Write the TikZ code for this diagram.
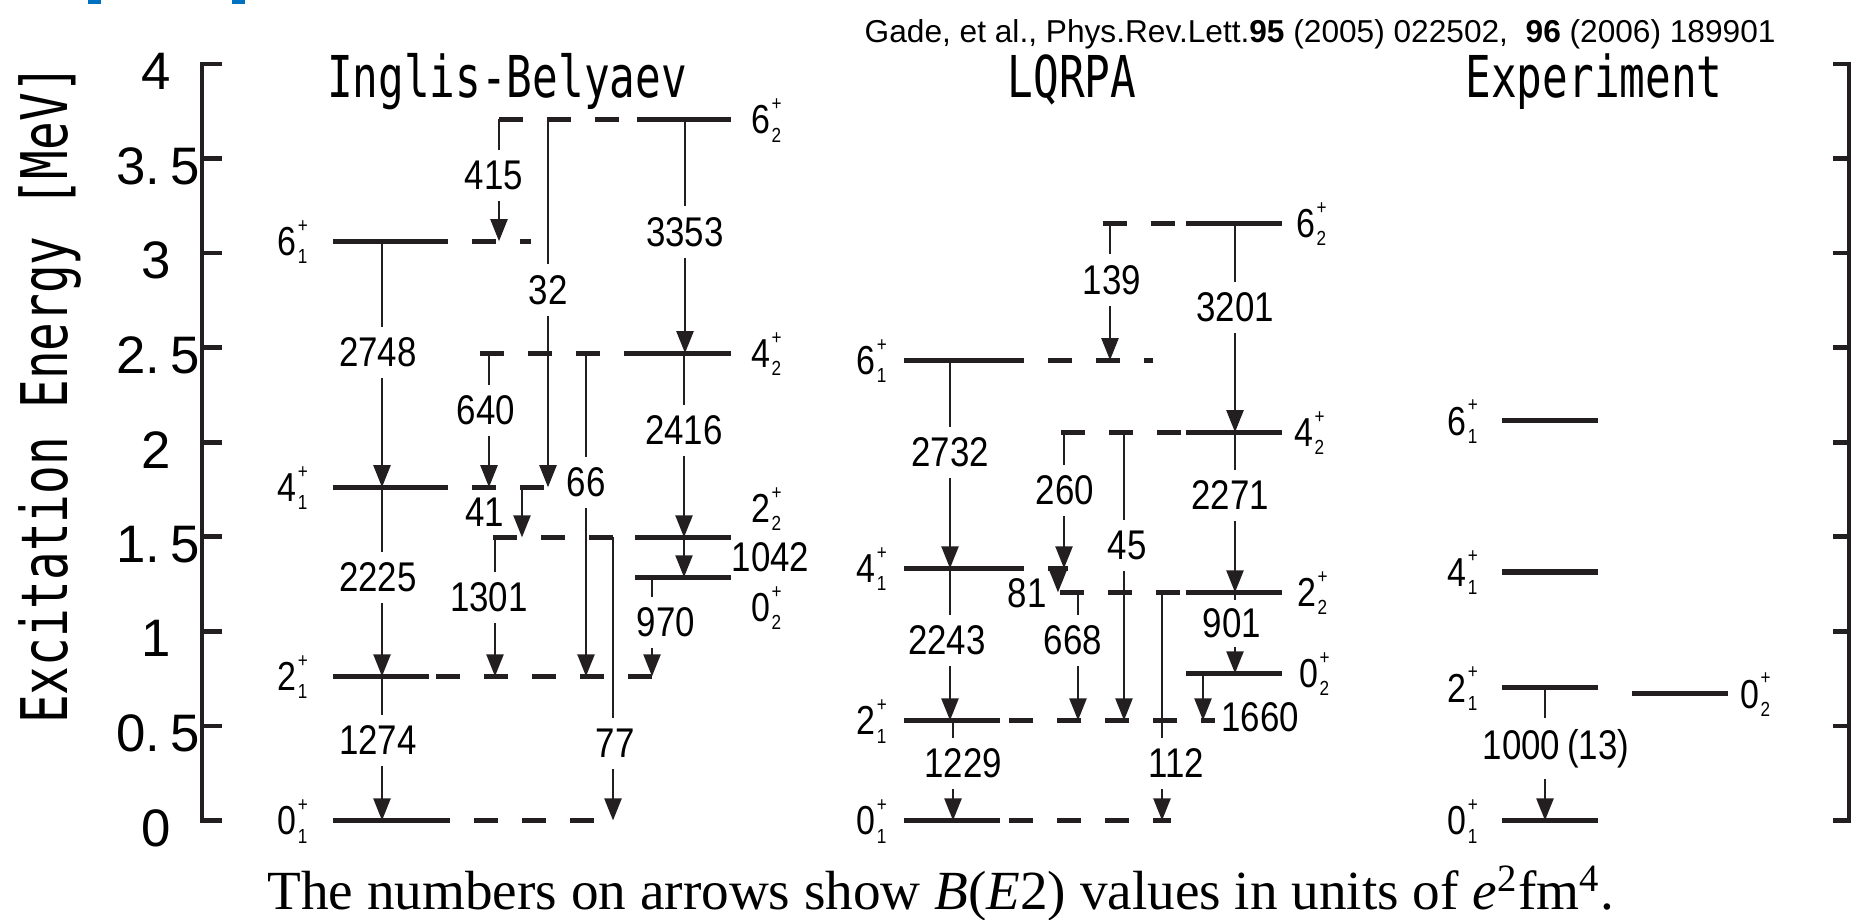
\documentclass[tikz,border=0pt]{standalone}
\usepackage{fontspec}
\setmainfont{Liberation Serif}
\newfontfamily\numfont[FakeStretch=0.84]{Liberation Sans}
\newfontfamily\plainsans{Liberation Sans}
\newfontfamily\ttlfont[FakeStretch=0.74]{DejaVu Sans Mono}
\usetikzlibrary{arrows.meta}
\definecolor{ink}{RGB}{35,31,32}
\definecolor{slideblue}{RGB}{0,112,192}

% level label: spin, + on top, index below
\newcommand{\jpi}[2]{#1\kern0.3pt\rlap{\raisebox{6.7pt}{\fontsize{5.8}{6}\selectfont+}}\raisebox{-2.3pt}{\fontsize{5.8}{6}\selectfont#2}}

\tikzset{
  lvl/.style={ink, line width=1.45pt},
  lvldash/.style={ink, line width=1.45pt, dash pattern=on 2.35mm off 2.45mm},
  trans/.style={ink, line width=0.65pt, -{Triangle[length=2.2mm,width=1.7mm]}},
  bval/.style={font=\numfont\fontsize{11.8}{12}\selectfont, fill=white, inner xsep=0.5pt, inner ysep=1.1mm},
  bside/.style={font=\numfont\fontsize{11.8}{12}\selectfont, inner sep=0pt},
  jleft/.style={font=\numfont\fontsize{11.5}{12}\selectfont, inner sep=0pt, anchor=base east, yshift=-1.45mm},
  jright/.style={font=\numfont\fontsize{11.5}{12}\selectfont, inner sep=0pt, anchor=base west, yshift=-1.45mm},
  ttl/.style={font=\ttlfont\fontsize{16.4}{17}\selectfont, inner sep=0pt, anchor=base},
  tcklab/.style={font=\plainsans\fontsize{15}{16}\selectfont, inner sep=0pt, anchor=east, yshift=-0.75mm}
}

\begin{document}
\begin{tikzpicture}[x=0.01cm, y=1.89cm]
\useasboundingbox (0,-0.5238) rectangle (1851,4.3386);

% slide remnants and reference
\fill[slideblue] (88,4.317) rectangle (101,4.34);
\fill[slideblue] (232,4.317) rectangle (245,4.34);
\node[anchor=base west, font=\plainsans\fontsize{9.0}{10}\selectfont, inner sep=0pt] (cite) at (864,4.116)
  {Gade, et al., Phys.Rev.Lett.\textbf{95} (2005) 022502,\ \ \textbf{96} (2006) 189901};

% axes
\draw[ink, line width=1.35pt] (222,4) -- (202,4) -- (202,0) -- (222,0);
\draw[ink, line width=1.35pt] (1833,4) -- (1849,4) -- (1849,0) -- (1833,0);
\foreach \e in {0.5,1,...,3.5} {
  \draw[ink, line width=1.35pt] (202,\e) -- (222,\e);
  \draw[ink, line width=1.35pt] (1833,\e) -- (1849,\e);
}
\foreach \e in {0,1,2,3,4}
  \node[tcklab] (tick\e) at (172,\e) {\e};
\foreach \a in {0,1,2,3}
  \node[tcklab] (tick\a h) at (201,\a+0.5) {\a.\kern3pt5};
\node[rotate=90, font=\ttlfont\fontsize{18.3}{19}\selectfont, inner sep=0pt] (ylab) at (50,2.254) {Excitation Energy [MeV]};

% titles
\node[ttl] (ttlIB) at (507,3.825) {Inglis-Belyaev};
\node[ttl] (ttlLQ) at (1072,3.825) {LQRPA};
\node[ttl] (ttlEx) at (1594,3.825) {Experiment};

% ---- Inglis-Belyaev ----
\draw[lvl] (333,0) -- (428,0);         \draw[lvldash] (426,0) -- (596,0);
\draw[lvl] (333,0.762) -- (429,0.762); \draw[lvldash] (436,0.762) -- (652,0.762);
\draw[lvl] (333,1.762) -- (424,1.762); \draw[lvldash] (424,1.762) -- (544,1.762);
\draw[lvl] (333,3.063) -- (424,3.063); \draw[lvldash] (424,3.063) -- (531,3.063);
\draw[lvldash] (499,3.707) -- (637,3.707); \draw[lvl] (637,3.707) -- (731,3.707);
\draw[lvldash] (480,2.471) -- (637,2.471); \draw[lvl] (637,2.471) -- (731,2.471);
\draw[lvldash] (493,1.497) -- (637,1.497); \draw[lvl] (635,1.497) -- (731,1.497);
\draw[lvl] (635,1.286) -- (731,1.286);

\node[jleft] (ib01) at (308,0) {\jpi{0}{1}};
\node[jleft] (ib21) at (308,0.762) {\jpi{2}{1}};
\node[jleft] (ib41) at (308,1.762) {\jpi{4}{1}};
\node[jleft] (ib61) at (308,3.063) {\jpi{6}{1}};
\node[jright] (ib62) at (751,3.707) {\jpi{6}{2}};
\node[jright] (ib42) at (751,2.471) {\jpi{4}{2}};
\node[jright] (ib22) at (751,1.651) {\jpi{2}{2}};
\node[jright] (ib02) at (751,1.127) {\jpi{0}{2}};

\draw[trans] (382,3.063) -- (382,1.762);
\draw[trans] (382,1.762) -- (382,0.762);
\draw[trans] (382,0.762) -- (382,0);
\draw[trans] (499,3.707) -- (499,3.063);
\draw[trans] (548,3.707) -- (548,1.762);
\draw[trans] (685,3.707) -- (685,2.471);
\draw[trans] (489,2.471) -- (489,1.762);
\draw[trans] (586,2.471) -- (586,0.762);
\draw[trans] (684,2.471) -- (684,1.497);
\draw[trans] (522,1.762) -- (522,1.497);
\draw[trans] (684,1.497) -- (684,1.286);
\draw[trans] (495,1.497) -- (495,0.762);
\draw[trans] (613,1.497) -- (613,0);
\draw[trans] (652,1.286) -- (652,0.762);

\node[bval] (b2748) at (378,2.476) {2748};
\node[bval] (b2225) at (378,1.286) {2225};
\node[bval] (b1274) at (378,0.423) {1274};
\node[bval] (b415) at (494,3.413) {415};
\node[bval] (b32) at (548,2.804) {32};
\node[bval] (b3353) at (685,3.111) {3353};
\node[bval] (b640) at (486,2.169) {640};
\node[bval] (b66) at (586,1.788) {66};
\node[bval] (b2416) at (684,2.063) {2416};
\node[bside] (b41) at (485,1.63) {41};
\node[bside, anchor=west] (b1042) at (731,1.392) {1042};
\node[bval] (b1301) at (489,1.18) {1301};
\node[bval] (b77) at (615,0.407) {77};
\node[bval] (b970) at (666,1.048) {970};

% ---- LQRPA ----
\draw[lvl] (904,0) -- (1000,0);         \draw[lvldash] (1009,0) -- (1171,0);
\draw[lvl] (904,0.529) -- (1000,0.529); \draw[lvldash] (1009,0.529) -- (1215,0.529);
\draw[lvl] (904,1.333) -- (1000,1.333); \draw[lvldash] (1000,1.333) -- (1068,1.333);
\draw[lvl] (904,2.434) -- (1000,2.434); \draw[lvldash] (1000,2.434) -- (1153,2.434);
\draw[lvldash] (1103,3.159) -- (1186,3.159); \draw[lvl] (1186,3.159) -- (1282,3.159);
\draw[lvldash] (1061,2.053) -- (1186,2.053); \draw[lvl] (1186,2.053) -- (1282,2.053);
\draw[lvldash] (1060,1.206) -- (1186,1.206); \draw[lvl] (1186,1.206) -- (1282,1.206);
\draw[lvl] (1186,0.778) -- (1282,0.778);

\node[jleft] (lq01) at (887,0) {\jpi{0}{1}};
\node[jleft] (lq21) at (887,0.529) {\jpi{2}{1}};
\node[jleft] (lq41) at (887,1.333) {\jpi{4}{1}};
\node[jleft] (lq61) at (887,2.434) {\jpi{6}{1}};
\node[jright] (lq62) at (1296,3.159) {\jpi{6}{2}};
\node[jright] (lq42) at (1294,2.053) {\jpi{4}{2}};
\node[jright] (lq22) at (1297,1.206) {\jpi{2}{2}};
\node[jright] (lq02) at (1299,0.778) {\jpi{0}{2}};

\draw[trans] (950,2.434) -- (950,1.333);
\draw[trans] (950,1.333) -- (950,0.529);
\draw[trans] (953,0.529) -- (953,0);
\draw[trans] (1110,3.159) -- (1110,2.434);
\draw[trans] (1235,3.159) -- (1235,2.053);
\draw[trans] (1064,2.053) -- (1064,1.333);
\draw[trans] (1124,2.053) -- (1124,0.529);
\draw[trans] (1235,2.053) -- (1235,1.206);
\draw[trans] (1058,1.333) -- (1058,1.206);
\draw[trans] (1078,1.206) -- (1078,0.529);
\draw[trans] (1162,1.206) -- (1162,0);
\draw[trans] (1235,1.206) -- (1235,0.778);
\draw[trans] (1203,0.778) -- (1203,0.529);

\node[bval] (c2732) at (950,1.947) {2732};
\node[bval] (c2243) at (947,0.952) {2243};
\node[bval] (c1229) at (963,0.302) {1229};
\node[bval] (c139) at (1112,2.857) {139};
\node[bval] (c3201) at (1235,2.714) {3201};
\node[bval] (c260) at (1065,1.746) {260};
\node[bval] (c45) at (1127,1.455) {45};
\node[bval] (c2271) at (1230,1.720) {2271};
\node[bside] (c81) at (1027,1.201) {81};
\node[bval] (c668) at (1073,0.952) {668};
\node[bval] (c112) at (1176,0.302) {112};
\node[bval, inner ysep=0.9mm] (c901) at (1232,1.042) {901};
\node[bside] (c1660) at (1260,0.545) {1660};

% ---- Experiment ----
\draw[lvl] (1502,0) -- (1598,0);
\draw[lvl] (1502,0.702) -- (1598,0.702);
\draw[lvl] (1502,1.314) -- (1598,1.314);
\draw[lvl] (1502,2.113) -- (1598,2.113);
\draw[lvl] (1632,0.67) -- (1728,0.67);

\node[jleft] (ex01) at (1478,0) {\jpi{0}{1}};
\node[jleft] (ex21) at (1478,0.702) {\jpi{2}{1}};
\node[jleft] (ex41) at (1478,1.314) {\jpi{4}{1}};
\node[jleft] (ex61) at (1478,2.113) {\jpi{6}{1}};
\node[jright] (ex02) at (1740,0.67) {\jpi{0}{2}};

\draw[trans] (1545,0.702) -- (1545,0);
\node[bval] (e1000) at (1556,0.381) {1000\,(13)};

% caption
\node[anchor=base, font=\fontsize{15.7}{16}\selectfont, inner sep=0pt] (note) at (941,-0.471)
  {The numbers on arrows show \textit{B}(\textit{E}2) values in units of \textit{e}\textsuperscript{2}fm\textsuperscript{4}.};
\end{tikzpicture}
\end{document}
